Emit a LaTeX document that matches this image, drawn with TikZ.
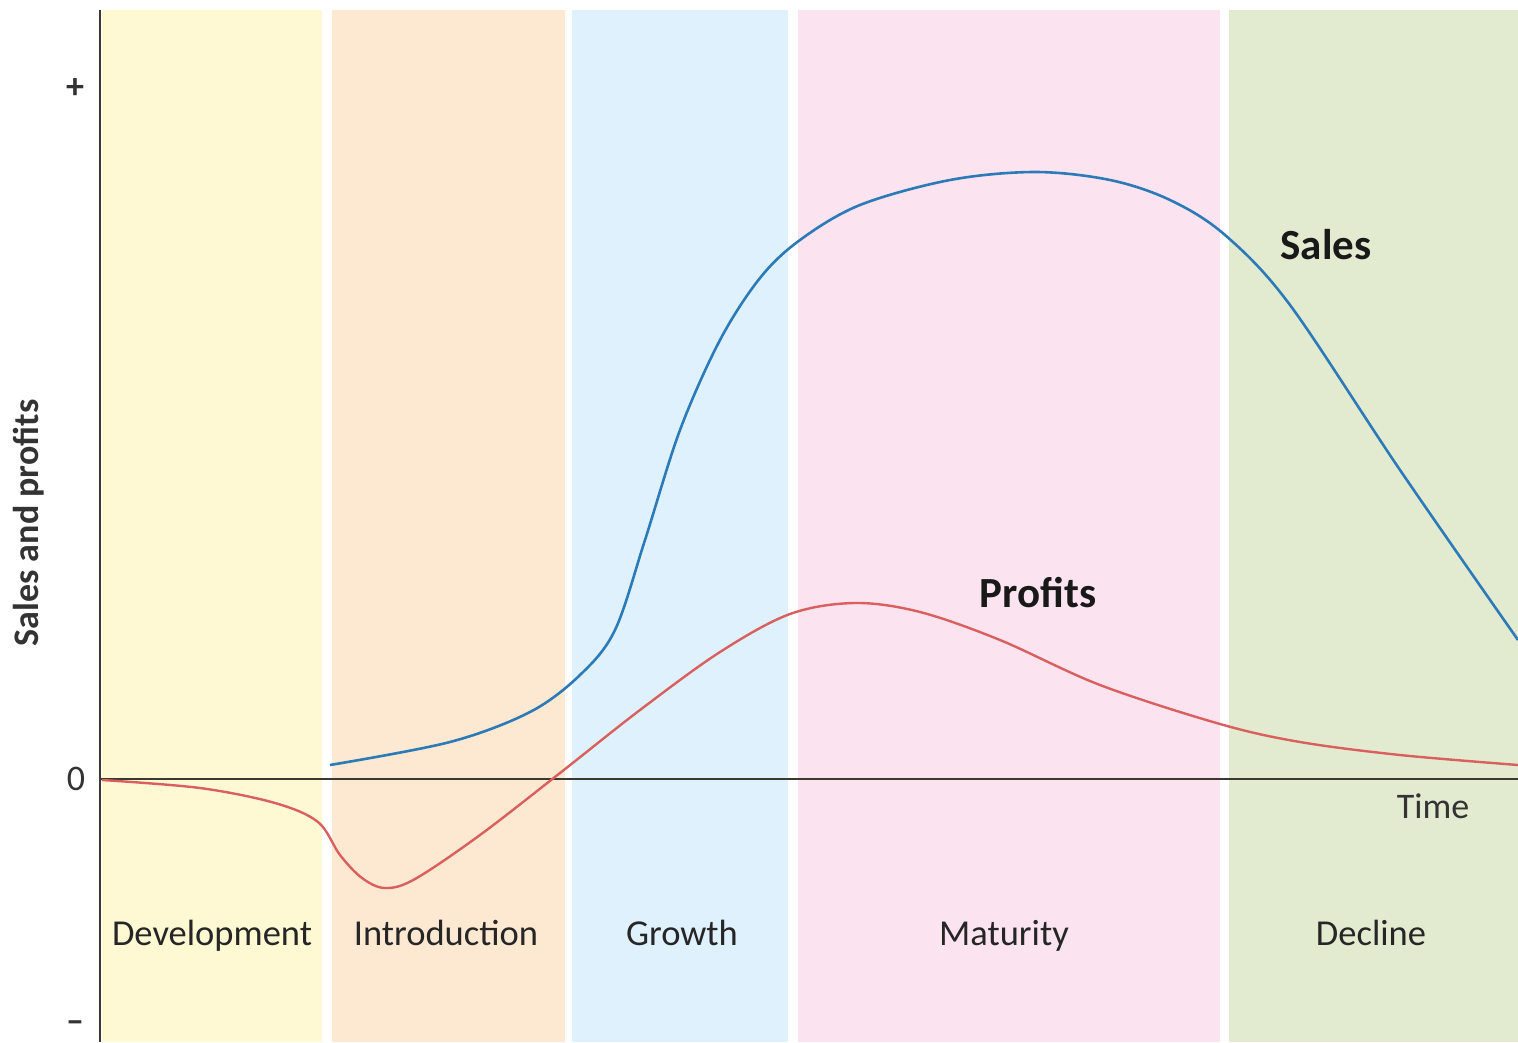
\documentclass[tikz,border=0pt]{standalone}
\usepackage{fontspec}
\setmainfont{Carlito}
\usepackage{tikz}

\definecolor{devcol}{HTML}{FEF9D2}
\definecolor{introcol}{HTML}{FDE8D2}
\definecolor{growcol}{HTML}{DFF1FD}
\definecolor{matcol}{HTML}{FBE3F0}
\definecolor{deccol}{HTML}{E2EBCF}
\definecolor{salescol}{HTML}{2C7BB8}
\definecolor{profcol}{HTML}{D9605E}
\definecolor{axiscol}{HTML}{3A3A30}

\tikzset{
  stagelabel/.style={font=\fontsize{36.5}{40}\selectfont, text=black!85, anchor=base},
  curvelabel/.style={font=\fontsize{43}{46}\selectfont\bfseries, text=black!90},
  ticklabel/.style={font=\fontsize{36}{40}\selectfont, text=black!80},
}

\begin{document}
\begin{tikzpicture}[x=1pt,y=-1pt]
\useasboundingbox (0,0) rectangle (1518,1042);
% stage bands
\fill[devcol] (102,10) rectangle (322,1042);
\fill[introcol] (332,10) rectangle (565,1042);
\fill[growcol] (572,10) rectangle (788,1042);
\fill[matcol] (798,10) rectangle (1220,1042);
\fill[deccol] (1229,10) rectangle (1518,1042);
% axes
\draw[axiscol, line width=2.2pt] (100,10)--(100,1042);
\draw[axiscol, line width=1.8pt] (100,779)--(1518,779);
\node[ticklabel] (plus) at (75,89) {\textbf{+}};
\node[ticklabel] (zero) at (76,779) {0};
\node[ticklabel] (minus) at (75,1027) {\textbf{--}};
\node[ticklabel, rotate=90, font=\fontsize{36}{40}\selectfont\bfseries] (ylab) at (29,523) {Sales and profits};
\node[ticklabel] (time) at (1433,806) {Time};
% stage names
\node[stagelabel] (dev) at (212,945) {Development};
\node[stagelabel] (intro) at (446,945) {Introduction};
\node[stagelabel] (grow) at (682,945) {Growth};
\node[stagelabel] (mat) at (1004,945) {Maturity};
\node[stagelabel] (dec) at (1371,945) {Decline};
% curves
\draw[salescol, line width=2.6pt] plot[smooth, tension=0.55] coordinates {
  (330,765) (450,742) (530,712) (580,675) (615,630) (645,540) (680,430)
  (720,340) (760,278) (800,240) (860,205) (950,180) (1035,172) (1110,180)
  (1170,200) (1225,235) (1290,305) (1400,470) (1518,640)};
\draw[profcol, line width=2.4pt] plot[smooth, tension=0.55] coordinates {
  (102,780) (200,788) (275,803) (318,822) (340,855) (362,878) (385,888)
  (415,879) (480,835) (560,773) (640,710) (720,652) (790,614) (855,603)
  (920,612) (1000,640) (1100,685) (1220,724) (1300,742) (1400,755) (1518,765)};
\node[curvelabel] (sales) at (1326,245) {Sales};
\node[curvelabel] (profits) at (1038,593) {Profits};
\end{tikzpicture}
\end{document}
